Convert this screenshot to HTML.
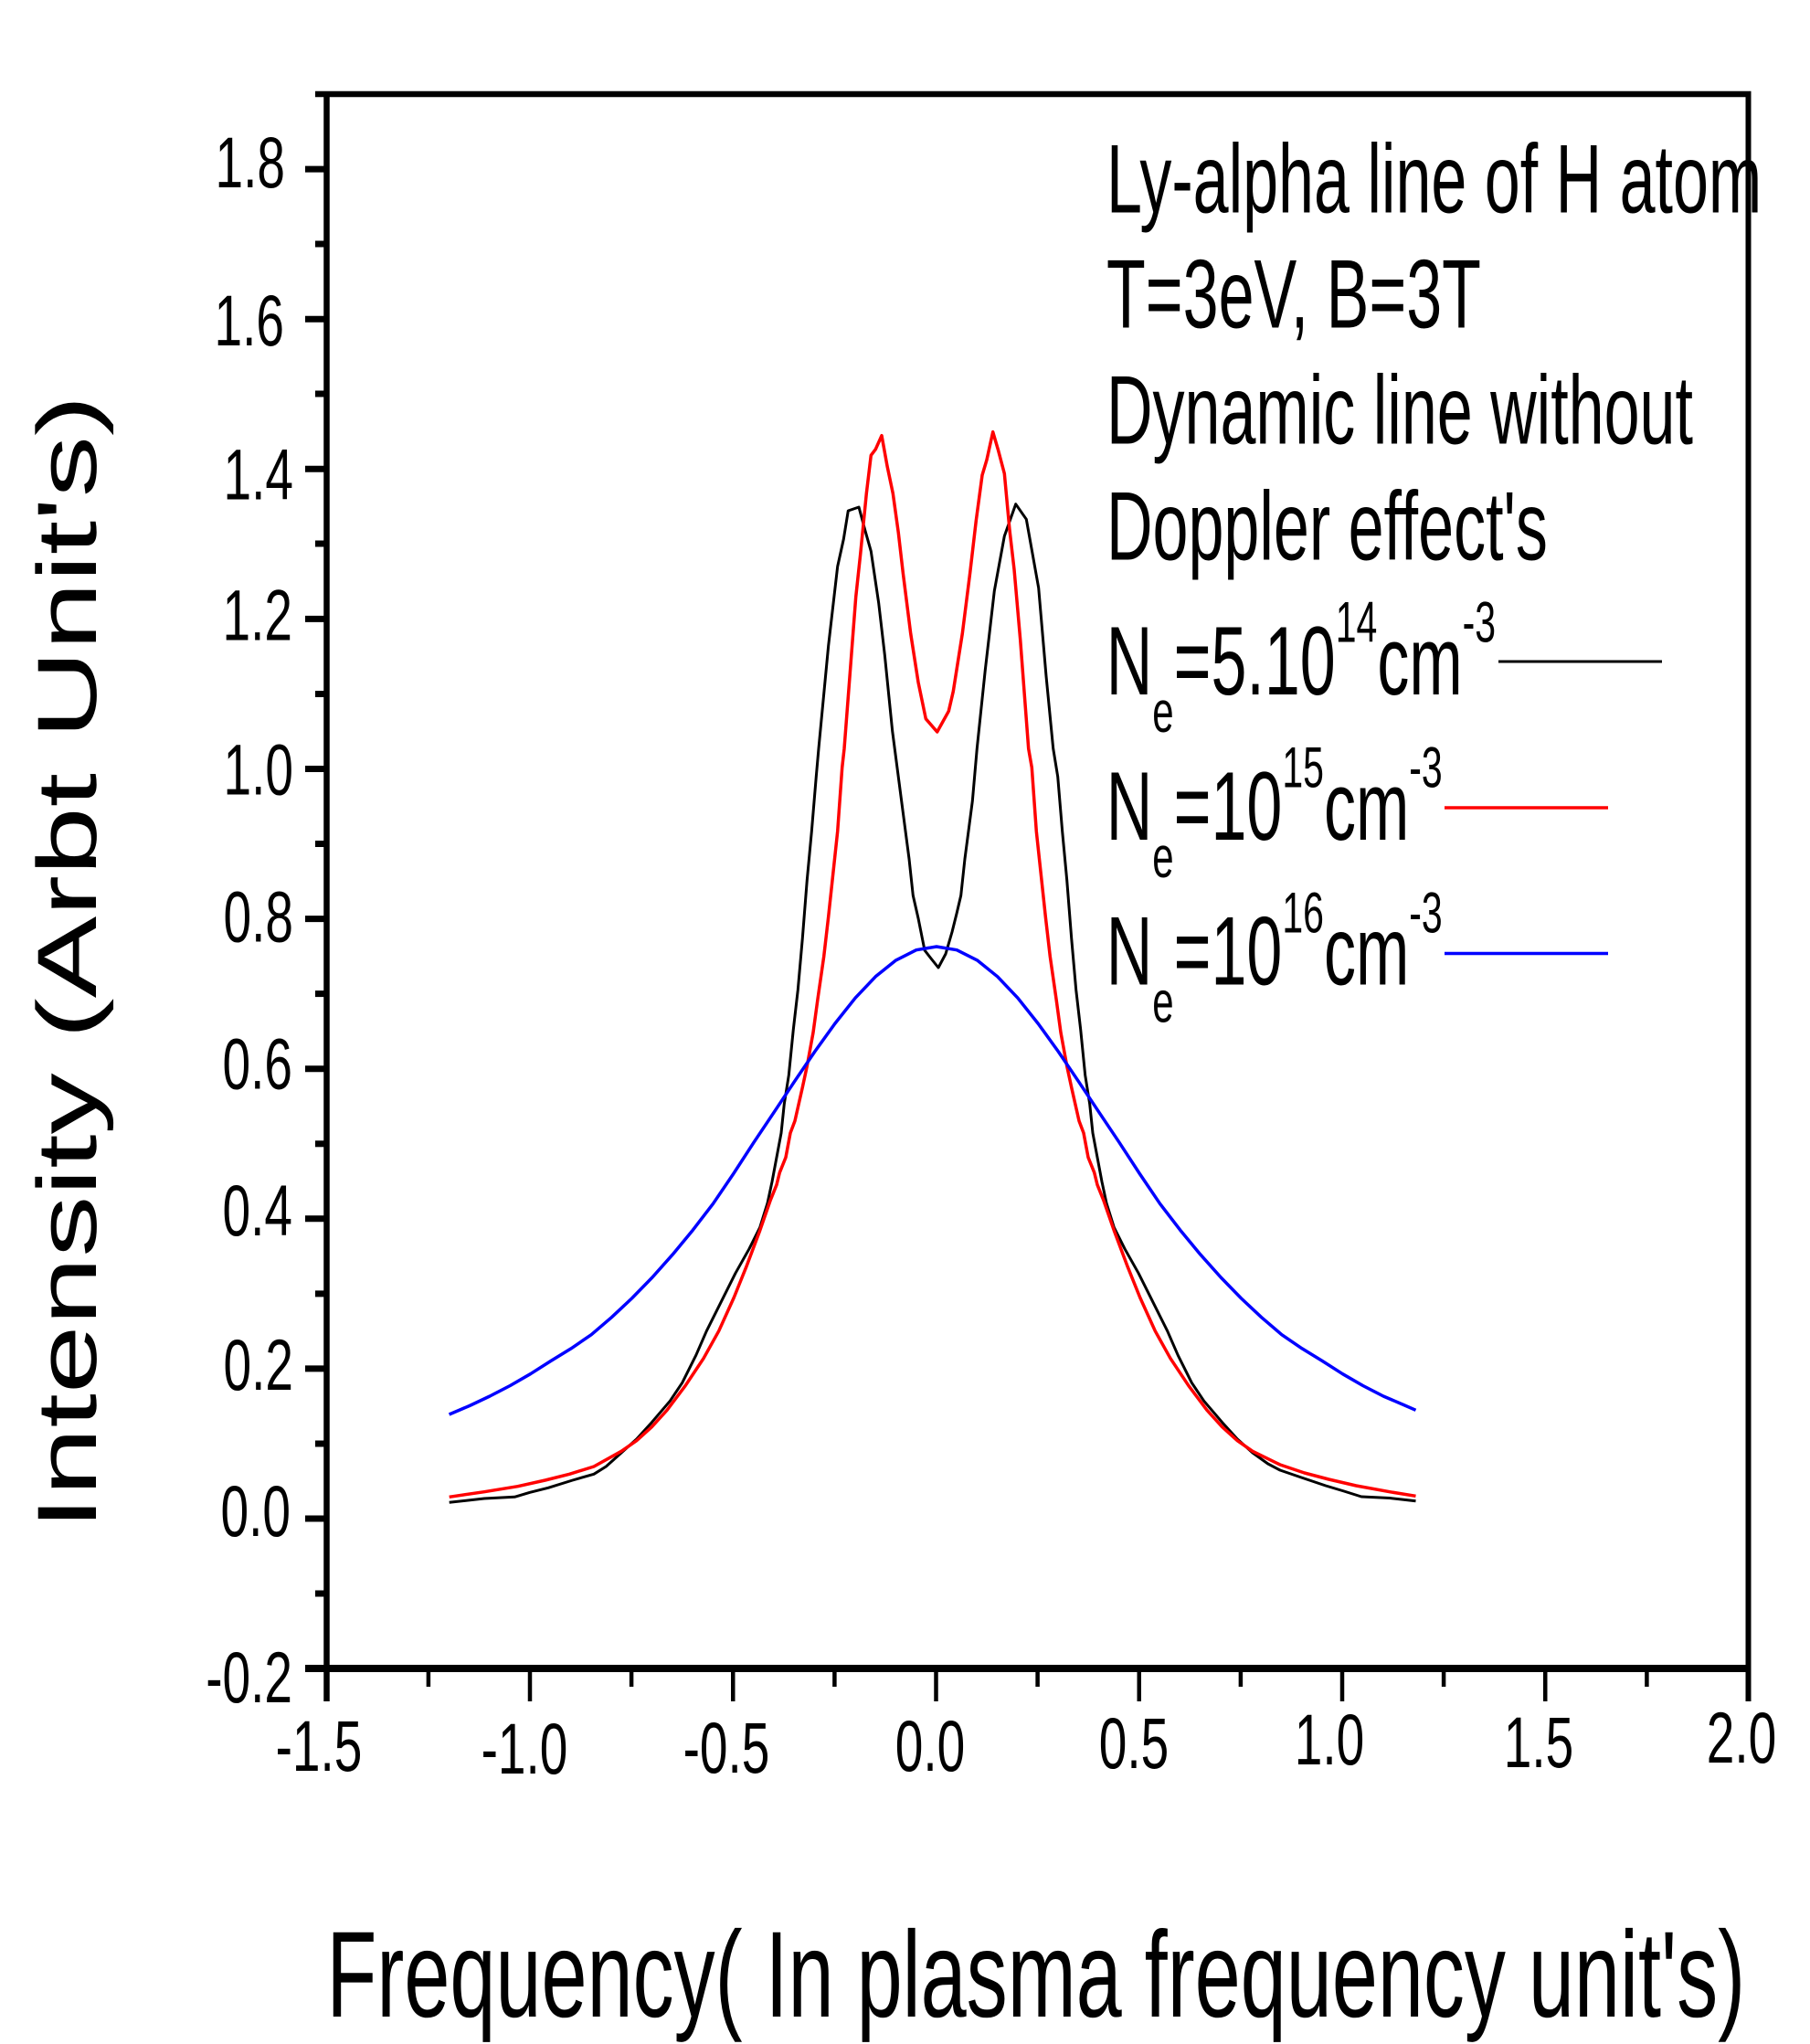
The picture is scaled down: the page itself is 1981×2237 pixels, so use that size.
<!DOCTYPE html>
<html><head><meta charset="utf-8"><style>
html,body{margin:0;padding:0;background:#fff;}
svg{display:block;}
text{font-family:"Liberation Sans",Arial,sans-serif;fill:#000;}
</style></head><body>
<svg width="1981" height="2237" viewBox="0 0 1981 2237" xmlns="http://www.w3.org/2000/svg">
<rect width="1981" height="2237" fill="#fff"/>
<!-- frame -->
<g stroke="#000" fill="none" stroke-linecap="butt">
<line x1="357.5" y1="100" x2="357.5" y2="1862" stroke-width="6.5"/>
<line x1="1913.5" y1="100" x2="1913.5" y2="1862" stroke-width="6"/>
<line x1="345" y1="103" x2="1916.5" y2="103" stroke-width="6.5"/>
<line x1="334" y1="1826" x2="1916.5" y2="1826" stroke-width="8"/>
<g stroke-width="7">
<line x1="334" y1="185.1" x2="358" y2="185.1"/>
<line x1="334" y1="349.2" x2="358" y2="349.2"/>
<line x1="334" y1="513.3" x2="358" y2="513.3"/>
<line x1="334" y1="677.4" x2="358" y2="677.4"/>
<line x1="334" y1="841.5" x2="358" y2="841.5"/>
<line x1="334" y1="1005.6" x2="358" y2="1005.6"/>
<line x1="334" y1="1169.7" x2="358" y2="1169.7"/>
<line x1="334" y1="1333.8" x2="358" y2="1333.8"/>
<line x1="334" y1="1497.9" x2="358" y2="1497.9"/>
<line x1="334" y1="1662" x2="358" y2="1662"/>
</g>
<g stroke-width="7">
<line x1="345" y1="267" x2="358" y2="267"/>
<line x1="345" y1="431" x2="358" y2="431"/>
<line x1="345" y1="595" x2="358" y2="595"/>
<line x1="345" y1="759.5" x2="358" y2="759.5"/>
<line x1="345" y1="923.5" x2="358" y2="923.5"/>
<line x1="345" y1="1087.6" x2="358" y2="1087.6"/>
<line x1="345" y1="1251.8" x2="358" y2="1251.8"/>
<line x1="345" y1="1415.9" x2="358" y2="1415.9"/>
<line x1="345" y1="1580" x2="358" y2="1580"/>
<line x1="345" y1="1744" x2="358" y2="1744"/>
</g>
<g stroke-width="4.5">
<line x1="580" y1="1826" x2="580" y2="1862"/>
<line x1="802.25" y1="1826" x2="802.25" y2="1862"/>
<line x1="1024.5" y1="1826" x2="1024.5" y2="1862"/>
<line x1="1246.75" y1="1826" x2="1246.75" y2="1862"/>
<line x1="1469" y1="1826" x2="1469" y2="1862"/>
<line x1="1691.25" y1="1826" x2="1691.25" y2="1862"/>
<line x1="1913.5" y1="1826" x2="1913.5" y2="1862"/>
</g>
<g stroke-width="4.5">
<line x1="468.9" y1="1826" x2="468.9" y2="1846"/>
<line x1="691.1" y1="1826" x2="691.1" y2="1846"/>
<line x1="913.4" y1="1826" x2="913.4" y2="1846"/>
<line x1="1135.6" y1="1826" x2="1135.6" y2="1846"/>
<line x1="1357.9" y1="1826" x2="1357.9" y2="1846"/>
<line x1="1580.1" y1="1826" x2="1580.1" y2="1846"/>
<line x1="1802.4" y1="1826" x2="1802.4" y2="1846"/>
</g>
</g>

<!-- y tick labels -->
<g font-size="55" text-anchor="end">
<text transform="translate(312,205.1) scale(1,1.43)">1.8</text>
<text transform="translate(311,378.2) scale(1,1.43)">1.6</text>
<text transform="translate(321,546.3) scale(1,1.43)">1.4</text>
<text transform="translate(320,700.4) scale(1,1.43)">1.2</text>
<text transform="translate(321,869.5) scale(1,1.43)">1.0</text>
<text transform="translate(321,1030.6) scale(1,1.43)">0.8</text>
<text transform="translate(320,1191.7) scale(1,1.43)">0.6</text>
<text transform="translate(320,1351.8) scale(1,1.43)">0.4</text>
<text transform="translate(321,1520.9) scale(1,1.43)">0.2</text>
<text transform="translate(318,1681) scale(1,1.43)">0.0</text>
<text transform="translate(320,1863) scale(1,1.43)">-0.2</text>
</g>

<!-- x tick labels -->
<g font-size="55" text-anchor="middle">
<text transform="translate(349,1938) scale(1,1.43)">-1.5</text>
<text transform="translate(574,1941) scale(1,1.43)">-1.0</text>
<text transform="translate(795,1940) scale(1,1.43)">-0.5</text>
<text transform="translate(1018,1938) scale(1,1.43)">0.0</text>
<text transform="translate(1241,1935) scale(1,1.43)">0.5</text>
<text transform="translate(1455,1931) scale(1,1.43)">1.0</text>
<text transform="translate(1684,1934) scale(1,1.43)">1.5</text>
<text transform="translate(1906,1929) scale(1,1.43)">2.0</text>
</g>

<!-- axis titles -->
<text font-size="92" transform="translate(105,1674.5) rotate(-90) scale(1.46,1)">Intensity (Arbt Unit's)</text>
<text font-size="90" transform="translate(357.4,2207) scale(1,1.49)">Frequency( In plasma frequency unit's)</text>

<!-- legend text -->
<g font-size="70">
<text transform="translate(1211,232.7) scale(1,1.53)">Ly-alpha line of H atom</text>
<text transform="translate(1211,358.3) scale(1,1.53)">T=3eV, B=3T</text>
<text transform="translate(1211,485.7) scale(1,1.53)">Dynamic line without</text>
<text transform="translate(1211,612.7) scale(1,1.53)">Doppler effect's</text>
<text transform="translate(1210.7,760) scale(1,1.53)">N<tspan font-size="42" dy="26.8">e</tspan><tspan font-size="70" dy="-26.8">=5.10</tspan><tspan font-size="41" dy="-37.5">14</tspan><tspan font-size="70" dy="37.5">cm</tspan><tspan font-size="41" dy="-37.5">-3</tspan></text>
<text transform="translate(1210.7,919) scale(1,1.53)">N<tspan font-size="42" dy="26.8">e</tspan><tspan font-size="70" dy="-26.8">=10</tspan><tspan font-size="41" dy="-37.5">15</tspan><tspan font-size="70" dy="37.5">cm</tspan><tspan font-size="41" dy="-37.5">-3</tspan></text>
<text transform="translate(1210.7,1077.7) scale(1,1.53)">N<tspan font-size="42" dy="26.8">e</tspan><tspan font-size="70" dy="-26.8">=10</tspan><tspan font-size="41" dy="-37.5">16</tspan><tspan font-size="70" dy="37.5">cm</tspan><tspan font-size="41" dy="-37.5">-3</tspan></text>
</g>
<line x1="1640" y1="724" x2="1819" y2="724" stroke="#000" stroke-width="3"/>
<line x1="1581" y1="884" x2="1760" y2="884" stroke="#ff0000" stroke-width="3.5"/>
<line x1="1581" y1="1043.5" x2="1760" y2="1043.5" stroke="#0000ff" stroke-width="3.5"/>

<!-- curves -->
<g fill="none" stroke-linejoin="round" stroke-linecap="butt">
<polyline stroke="#000" stroke-width="3" points="491.7,1644.3 530,1640 563.3,1638.3 580,1633.3 600,1628.3 626.7,1620 650,1613.3 663.3,1605 680,1590 696.7,1575 713.3,1556.7 733.3,1533.3 746.7,1513.3 761.7,1483.3 773.3,1456.7 783.3,1436.7 793.3,1416.7 805,1393.3 820,1366.7 831.7,1343.3 840,1316.7 845,1293.3 855,1240 858.3,1208.3 863.3,1176.7 868.3,1126.7 873.3,1083.3 878.3,1026.7 883.3,963.3 888.3,910 893.3,850 896,819.3 906.7,706.7 916.7,620 923.3,590 928.3,559 940,555 946.7,580 953.3,603.3 961.7,660 968.3,716.7 976.7,800 986.7,876.7 995,940 999.3,980 1005,1005 1012,1040 1019,1049 1027,1059 1035,1044 1042,1020 1047,1000 1051.7,980 1056,940 1064.3,876.7 1069.3,819.3 1078.3,733.3 1088.3,646.7 1099.3,586.7 1111.7,551.7 1123.3,568.3 1136.7,643.3 1145,740 1152.7,819.3 1157.7,850 1162.7,910 1167.7,963.3 1172.7,1026.7 1177.7,1083.3 1182.7,1126.7 1187.7,1176.7 1192.7,1208.3 1196,1240 1206,1293.3 1211,1316.7 1219.3,1343.3 1231,1366.7 1246,1393.3 1257.7,1416.7 1267.7,1436.7 1277.7,1456.7 1289.3,1483.3 1304.3,1513.3 1317.7,1533.3 1337.7,1556.7 1354.3,1575 1371,1590 1387.7,1602 1401,1609 1424.3,1617 1451,1626 1471,1632 1490,1638 1521,1639.5 1549.5,1642.7"/>
<polyline stroke="#ff0000" stroke-width="3.5" points="491.7,1638.3 530,1632.7 566.7,1626.7 596.7,1620 623.3,1613.3 650,1605 680,1588.3 696.7,1576.7 713.3,1561.7 730,1543.3 750,1516.7 770,1486.7 786.7,1456.7 803.3,1420 816.7,1386.7 831.7,1346.7 843.3,1313.3 850,1296.7 853.3,1283.3 860,1266.7 865,1240 870,1226.7 878.3,1190 883.3,1166.7 890,1130 895,1093.3 901.7,1046.7 906.7,1003.3 911.7,956.7 916.7,910 921.7,840 924,819.3 936.7,653.3 941.7,606.7 948.3,540 953.3,498.3 958.3,491.7 965,476.7 971,510 977.3,540 983.3,583.3 988.3,626.7 996.7,693.3 1005,746.7 1013.3,786.7 1025.7,801 1038.3,778.3 1043.3,756.7 1053.3,693.3 1061.7,626.7 1068.3,570 1075,520 1080,503.3 1086.7,472.7 1092.7,493.3 1099.3,518.3 1105,580 1110,623.3 1116.7,700 1125.7,819.3 1129.3,840 1134.3,910 1139.3,956.7 1144.3,1003.3 1149.3,1046.7 1156,1093.3 1161,1130 1167.7,1166.7 1172.7,1190 1181,1226.7 1186,1240 1191,1266.7 1197.7,1283.3 1201,1296.7 1207.7,1313.3 1219.3,1346.7 1234.3,1386.7 1247.7,1420 1264.3,1456.7 1281,1486.7 1301,1516.7 1321,1543.3 1337.7,1561.7 1354.3,1576.7 1371,1588.3 1401,1603 1427.7,1612 1454.3,1619 1484.3,1626 1521,1632.7 1549.5,1637.3"/>
<polyline stroke="#0000ff" stroke-width="3.5" points="491.6,1548 513.9,1538.5 536.1,1528 558.3,1516.5 580.5,1503.7 602.8,1489.5 625,1475.9 647.2,1460.7 669.4,1441.7 691.6,1420.9 713.9,1398 736.1,1373.1 758.3,1346.2 780.5,1317.3 802.8,1284.5 825,1250.3 847.2,1217.2 869.4,1183.8 891.7,1151 913.9,1120.1 936.1,1092.2 958.3,1068.8 980.6,1050.9 1002.8,1039.7 1025,1036 1047.2,1039.7 1069.5,1050.9 1091.7,1068.8 1113.9,1092.2 1136.1,1120.1 1158.4,1151 1180.6,1183.8 1202.8,1217.2 1225,1250.3 1247.3,1284.5 1269.5,1317.3 1291.7,1346.2 1313.9,1373.1 1336.2,1398 1358.4,1420.9 1380.6,1441.7 1402.8,1460.7 1425.1,1475.9 1447.3,1489.5 1469.5,1503.7 1491.7,1516.5 1514,1528 1536.2,1537.5 1549.5,1543.3"/>
</g>
</svg>
</body></html>
